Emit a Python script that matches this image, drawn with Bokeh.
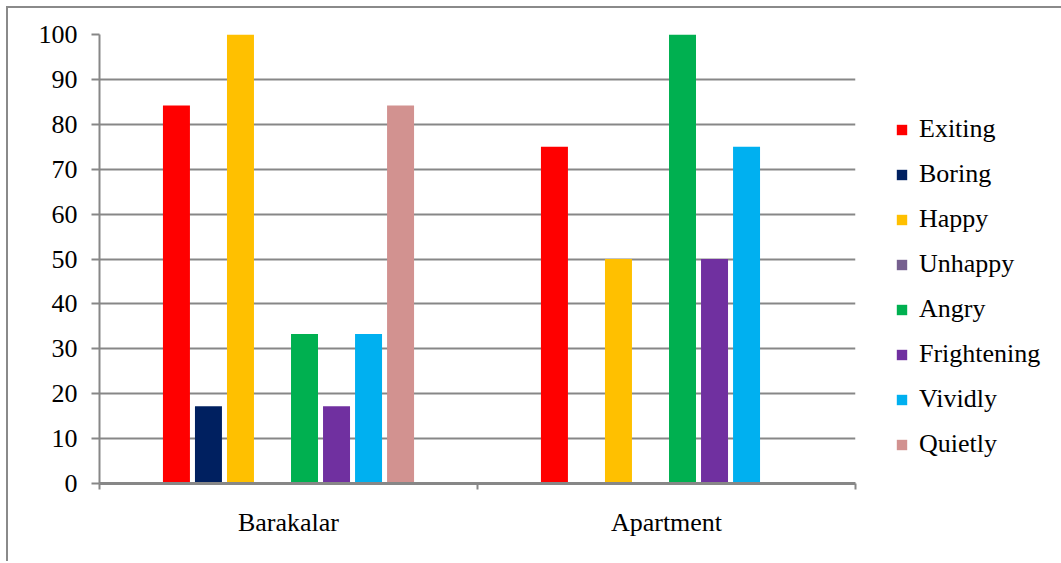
from bokeh.plotting import figure
from bokeh.models import Range1d, FixedTicker, ColumnDataSource, Legend, LegendItem
from bokeh.transform import dodge
from bokeh.embed import file_html
from bokeh.resources import INLINE

categories = ["Barakalar", "Apartment"]
series = ["Exiting", "Boring", "Happy", "Unhappy", "Angry", "Frightening", "Vividly", "Quietly"]
exiting = [84.2, 75]
boring = [17.2, 0]
happy = [100, 50]
unhappy = [0, 0]
angry = [33.3, 100]
frightening = [17.2, 50]
vividly = [33.3, 75]
quietly = [84.2, 0]
y_ticks = [0, 10, 20, 30, 40, 50, 60, 70, 80, 90, 100]

colors = ["#FF0000", "#002060", "#FFC000", "#76608F", "#00B050", "#7030A0", "#00B0F0", "#D29290"]
values = [exiting, boring, happy, unhappy, angry, frightening, vividly, quietly]

FONT = "Liberation Serif"
GREY = "#878787"

xc = [i + 0.5 for i in range(len(categories))]
data = {"xc": xc}
for name, vals in zip(series, values):
    data[name] = vals
src = ColumnDataSource(data)

p = figure(frame_width=756, frame_height=449, x_range=Range1d(0, len(categories)), y_range=Range1d(0, 100),
           output_backend="svg", toolbar_location=None,
           min_border_left=91, min_border_right=0, min_border_top=26, min_border_bottom=78)
p.styles = {"margin-left": "6px", "margin-top": "6px",
            "border-left": "2px solid #8a8a8a", "border-top": "2px solid #8a8a8a"}
p.outline_line_color = None
p.background_fill_color = "white"
p.border_fill_color = "white"

pitch = 0.0847
bw = 0.0714
items = []
for i, (name, col) in enumerate(zip(series, colors)):
    r = p.vbar(x=dodge("xc", (i - 3.5) * pitch, range=p.x_range), top=name, width=bw,
               source=src, fill_color=col, line_color=None)
    items.append(LegendItem(label=name, renderers=[r]))

legend = Legend(items=items, location=(40, 24), orientation="vertical")
legend.border_line_color = None
legend.background_fill_alpha = 0
legend.padding = 0
legend.margin = 0
legend.glyph_width = 13
legend.glyph_height = 13
legend.label_height = 28
legend.spacing = 15
legend.label_standoff = 11
legend.label_text_font = FONT
legend.label_text_font_size = "26px"
legend.label_text_color = "black"
p.add_layout(legend, "right")

# y axis
p.yaxis.ticker = FixedTicker(ticks=y_ticks)
p.yaxis.axis_line_color = GREY
p.yaxis.axis_line_width = 2
p.yaxis.major_tick_line_color = GREY
p.yaxis.major_tick_line_width = 2
p.yaxis.major_tick_in = 0
p.yaxis.major_tick_out = 8
p.yaxis.minor_tick_line_color = None
p.yaxis.major_label_text_font = FONT
p.yaxis.major_label_text_font_size = "26px"
p.yaxis.major_label_text_color = "black"
p.yaxis.major_label_standoff = 14

# x axis
p.xaxis.ticker = FixedTicker(ticks=xc, minor_ticks=list(range(len(categories) + 1)))
p.xaxis.major_label_overrides = {x: c for x, c in zip(xc, categories)}
p.xaxis.axis_line_color = GREY
p.xaxis.axis_line_width = 3
p.xaxis.major_tick_line_color = None
p.xaxis.minor_tick_line_color = GREY
p.xaxis.minor_tick_line_width = 2
p.xaxis.minor_tick_in = 0
p.xaxis.minor_tick_out = 6
p.xaxis.major_label_text_font = FONT
p.xaxis.major_label_text_font_size = "26px"
p.xaxis.major_label_text_color = "black"
p.xaxis.major_label_standoff = 18

p.xgrid.grid_line_color = None
p.ygrid.grid_line_color = GREY
p.ygrid.grid_line_width = 2

open("out.html", "w").write(file_html(p, INLINE))
